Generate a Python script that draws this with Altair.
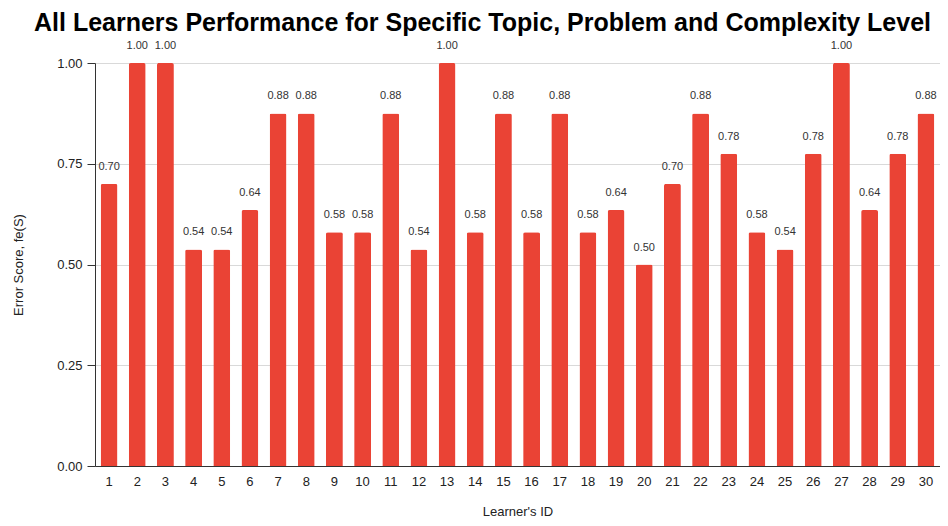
import altair as alt
import pandas as pd

learners = [str(i) for i in range(1, 31)]
scores = [0.70, 1.00, 1.00, 0.5375, 0.5375, 0.635, 0.875, 0.875, 0.58, 0.58,
          0.875, 0.5375, 1.00, 0.58, 0.875, 0.58, 0.875, 0.58, 0.635, 0.50,
          0.70, 0.875, 0.775, 0.58, 0.5375, 0.775, 1.00, 0.635, 0.775, 0.875]
labels = ["0.70", "1.00", "1.00", "0.54", "0.54", "0.64", "0.88", "0.88", "0.58", "0.58",
          "0.88", "0.54", "1.00", "0.58", "0.88", "0.58", "0.88", "0.58", "0.64", "0.50",
          "0.70", "0.88", "0.78", "0.58", "0.54", "0.78", "1.00", "0.64", "0.78", "0.88"]

df = pd.DataFrame({"id": learners, "score": scores, "label": labels})

FONT = "Liberation Sans"

x = alt.X("id:N", sort=learners, title="Learner's ID",
          scale=alt.Scale(paddingInner=0.4, paddingOuter=0.2),
          axis=alt.Axis(labelAngle=0, ticks=False, labelPadding=9, titlePadding=17,
                        domainColor="#333333", labelFontSize=13, titleFontSize=13,
                        labelColor="#222222", titleColor="#222222", titleFontWeight="normal",
                        labelFont=FONT, titleFont=FONT))
y = alt.Y("score:Q", title="Error Score, fe(S)",
          scale=alt.Scale(domain=[0, 1]),
          axis=alt.Axis(values=[0, 0.25, 0.5, 0.75, 1.0], format=".2f", tickSize=8,
                        tickColor="#333333", domainColor="#333333", labelPadding=5,
                        titlePadding=31, grid=True, gridColor="#d9d9d9",
                        labelFontSize=13, titleFontSize=13, labelColor="#222222",
                        titleColor="#222222", titleFontWeight="normal",
                        labelFont=FONT, titleFont=FONT))

bars = alt.Chart(df).mark_bar(color="#EA4335", cornerRadiusTopLeft=2,
                              cornerRadiusTopRight=2).encode(x=x, y=y)
text = alt.Chart(df).mark_text(baseline="alphabetic", dy=-14, fontSize=11,
                               color="#333333", font=FONT).encode(
    x=alt.X("id:N", sort=learners), y="score:Q", text="label:N")

chart = (bars + text).properties(
    width=845, height=403,
    title=alt.TitleParams("All Learners Performance for Specific Topic, Problem and Complexity Level",
                          font=FONT, fontSize=25, fontWeight="bold", color="#000000",
                          anchor="middle", dx=-35, offset=4),
    autosize=alt.AutoSizeParams(type="none"),
    padding={"left": 87, "top": 55, "right": 0, "bottom": 52},
).configure_view(stroke=None)

chart.save("out.html", embed_options={"renderer": "svg", "actions": False})
